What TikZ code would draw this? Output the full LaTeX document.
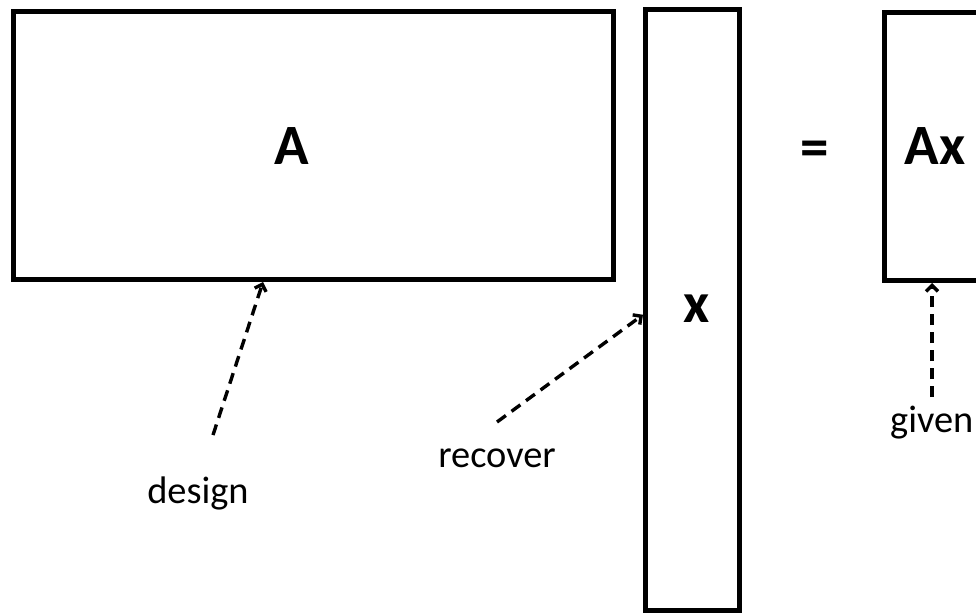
\documentclass[tikz,border=0pt]{standalone}
\usepackage{fontspec}
\setmainfont{Carlito}
\usetikzlibrary{arrows.meta,positioning,calc}
\tikzset{
  matBox/.style={rectangle,draw=black,line width=5pt,fill=white,inner sep=0pt},
  matLabel/.style={font=\bfseries\fontsize{57}{60}\selectfont,inner sep=0pt},
  roleLabel/.style={font=\fontsize{38.4}{42}\selectfont,inner sep=0pt,anchor=base},
  hint/.style={-{Straight Barb[length=6pt,width=12pt]},draw=black,line width=3.4pt,
    dash pattern=on 11pt off 7pt}
}
\begin{document}
\begin{tikzpicture}[x=1pt,y=-1pt]
  \useasboundingbox (0,0) rectangle (976,613);
  % the three matrices
  \node[matBox,minimum width=600pt,minimum height=268.5pt] (matA) at (313,145.25) {};
  \node[matBox,minimum width=93.5pt,minimum height=600.5pt] (vecX) at (692.25,309.75) {};
  \node[matBox,minimum width=100pt,minimum height=268pt] (vecAx) at (934,146.5) {};
  \node[matLabel] (labA) at (292,146.5) {A};
  \node[matLabel] (labX) at (697,309) {x};
  \node[matLabel] (labEq) at (815,153.5) {=};
  \node[matLabel] (labAx) at (935,146.5) {Ax};
  % roles
  \node[roleLabel] (design) at (198,503) {design};
  \node[roleLabel] (recover) at (497,467) {recover};
  \node[roleLabel,anchor=base west] (given) at (890,432) {given};
  \coordinate (dsgTail) at (213,435);
  \coordinate (recTail) at (497,422);
  \coordinate (givTail) at (932,397);
  \draw[hint] (dsgTail) -- ([xshift=-50pt]matA.south);
  \draw[hint] (recTail) -- ([yshift=-5pt]vecX.west);
  \draw[hint] (givTail) -- ([xshift=-2pt]vecAx.south);
\end{tikzpicture}
\end{document}
